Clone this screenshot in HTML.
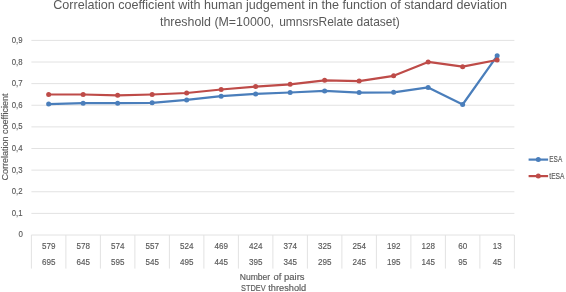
<!DOCTYPE html>
<html><head><meta charset="utf-8"><style>
html,body{margin:0;padding:0;background:#fff;width:566px;height:292px;overflow:hidden}
svg{display:block}
.ax{font-family:"Liberation Sans",sans-serif;font-size:9px;fill:#595959;stroke:#595959;stroke-width:0.15px}
.tt{font-family:"Liberation Sans",sans-serif;font-size:13px;fill:#595959}
</style></head><body>
<svg width="566" height="292" viewBox="0 0 566 292">
<line x1="31.4" y1="213.38" x2="514.40" y2="213.38" stroke="#e2e2e2" stroke-width="1"/>
<line x1="31.4" y1="191.75" x2="514.40" y2="191.75" stroke="#e2e2e2" stroke-width="1"/>
<line x1="31.4" y1="170.12" x2="514.40" y2="170.12" stroke="#e2e2e2" stroke-width="1"/>
<line x1="31.4" y1="148.50" x2="514.40" y2="148.50" stroke="#e2e2e2" stroke-width="1"/>
<line x1="31.4" y1="126.88" x2="514.40" y2="126.88" stroke="#e2e2e2" stroke-width="1"/>
<line x1="31.4" y1="105.25" x2="514.40" y2="105.25" stroke="#e2e2e2" stroke-width="1"/>
<line x1="31.4" y1="83.62" x2="514.40" y2="83.62" stroke="#e2e2e2" stroke-width="1"/>
<line x1="31.4" y1="62.00" x2="514.40" y2="62.00" stroke="#e2e2e2" stroke-width="1"/>
<line x1="31.4" y1="40.38" x2="514.40" y2="40.38" stroke="#e2e2e2" stroke-width="1"/>
<line x1="31.4" y1="235.0" x2="514.40" y2="235.0" stroke="#e2e2e2" stroke-width="1"/>
<line x1="31.40" y1="235.0" x2="31.40" y2="268.6" stroke="#e2e2e2" stroke-width="1"/>
<line x1="65.90" y1="235.0" x2="65.90" y2="268.6" stroke="#e2e2e2" stroke-width="1"/>
<line x1="100.40" y1="235.0" x2="100.40" y2="268.6" stroke="#e2e2e2" stroke-width="1"/>
<line x1="134.90" y1="235.0" x2="134.90" y2="268.6" stroke="#e2e2e2" stroke-width="1"/>
<line x1="169.40" y1="235.0" x2="169.40" y2="268.6" stroke="#e2e2e2" stroke-width="1"/>
<line x1="203.90" y1="235.0" x2="203.90" y2="268.6" stroke="#e2e2e2" stroke-width="1"/>
<line x1="238.40" y1="235.0" x2="238.40" y2="268.6" stroke="#e2e2e2" stroke-width="1"/>
<line x1="272.90" y1="235.0" x2="272.90" y2="268.6" stroke="#e2e2e2" stroke-width="1"/>
<line x1="307.40" y1="235.0" x2="307.40" y2="268.6" stroke="#e2e2e2" stroke-width="1"/>
<line x1="341.90" y1="235.0" x2="341.90" y2="268.6" stroke="#e2e2e2" stroke-width="1"/>
<line x1="376.40" y1="235.0" x2="376.40" y2="268.6" stroke="#e2e2e2" stroke-width="1"/>
<line x1="410.90" y1="235.0" x2="410.90" y2="268.6" stroke="#e2e2e2" stroke-width="1"/>
<line x1="445.40" y1="235.0" x2="445.40" y2="268.6" stroke="#e2e2e2" stroke-width="1"/>
<line x1="479.90" y1="235.0" x2="479.90" y2="268.6" stroke="#e2e2e2" stroke-width="1"/>
<line x1="514.40" y1="235.0" x2="514.40" y2="268.6" stroke="#e2e2e2" stroke-width="1"/>
<text x="23.0" y="236.90" text-anchor="end" class="ax" textLength="4.4" lengthAdjust="spacingAndGlyphs">0</text>
<text x="22.6" y="215.97" text-anchor="end" class="ax" textLength="10.8" lengthAdjust="spacingAndGlyphs">0,1</text>
<text x="22.6" y="194.35" text-anchor="end" class="ax" textLength="10.8" lengthAdjust="spacingAndGlyphs">0,2</text>
<text x="22.6" y="172.72" text-anchor="end" class="ax" textLength="10.8" lengthAdjust="spacingAndGlyphs">0,3</text>
<text x="22.6" y="151.10" text-anchor="end" class="ax" textLength="10.8" lengthAdjust="spacingAndGlyphs">0,4</text>
<text x="22.6" y="129.47" text-anchor="end" class="ax" textLength="10.8" lengthAdjust="spacingAndGlyphs">0,5</text>
<text x="22.6" y="107.85" text-anchor="end" class="ax" textLength="10.8" lengthAdjust="spacingAndGlyphs">0,6</text>
<text x="22.6" y="86.22" text-anchor="end" class="ax" textLength="10.8" lengthAdjust="spacingAndGlyphs">0,7</text>
<text x="22.6" y="64.60" text-anchor="end" class="ax" textLength="10.8" lengthAdjust="spacingAndGlyphs">0,8</text>
<text x="22.6" y="42.98" text-anchor="end" class="ax" textLength="10.8" lengthAdjust="spacingAndGlyphs">0,9</text>
<text x="41.90" y="249.4" class="ax" textLength="13.5" lengthAdjust="spacingAndGlyphs">579</text>
<text x="41.90" y="265.0" class="ax" textLength="13.5" lengthAdjust="spacingAndGlyphs">695</text>
<text x="76.40" y="249.4" class="ax" textLength="13.5" lengthAdjust="spacingAndGlyphs">578</text>
<text x="76.40" y="265.0" class="ax" textLength="13.5" lengthAdjust="spacingAndGlyphs">645</text>
<text x="110.90" y="249.4" class="ax" textLength="13.5" lengthAdjust="spacingAndGlyphs">574</text>
<text x="110.90" y="265.0" class="ax" textLength="13.5" lengthAdjust="spacingAndGlyphs">595</text>
<text x="145.40" y="249.4" class="ax" textLength="13.5" lengthAdjust="spacingAndGlyphs">557</text>
<text x="145.40" y="265.0" class="ax" textLength="13.5" lengthAdjust="spacingAndGlyphs">545</text>
<text x="179.90" y="249.4" class="ax" textLength="13.5" lengthAdjust="spacingAndGlyphs">524</text>
<text x="179.90" y="265.0" class="ax" textLength="13.5" lengthAdjust="spacingAndGlyphs">495</text>
<text x="214.40" y="249.4" class="ax" textLength="13.5" lengthAdjust="spacingAndGlyphs">469</text>
<text x="214.40" y="265.0" class="ax" textLength="13.5" lengthAdjust="spacingAndGlyphs">445</text>
<text x="248.90" y="249.4" class="ax" textLength="13.5" lengthAdjust="spacingAndGlyphs">424</text>
<text x="248.90" y="265.0" class="ax" textLength="13.5" lengthAdjust="spacingAndGlyphs">395</text>
<text x="283.40" y="249.4" class="ax" textLength="13.5" lengthAdjust="spacingAndGlyphs">374</text>
<text x="283.40" y="265.0" class="ax" textLength="13.5" lengthAdjust="spacingAndGlyphs">345</text>
<text x="317.90" y="249.4" class="ax" textLength="13.5" lengthAdjust="spacingAndGlyphs">325</text>
<text x="317.90" y="265.0" class="ax" textLength="13.5" lengthAdjust="spacingAndGlyphs">295</text>
<text x="352.40" y="249.4" class="ax" textLength="13.5" lengthAdjust="spacingAndGlyphs">254</text>
<text x="352.40" y="265.0" class="ax" textLength="13.5" lengthAdjust="spacingAndGlyphs">245</text>
<text x="386.90" y="249.4" class="ax" textLength="13.5" lengthAdjust="spacingAndGlyphs">192</text>
<text x="386.90" y="265.0" class="ax" textLength="13.5" lengthAdjust="spacingAndGlyphs">195</text>
<text x="421.40" y="249.4" class="ax" textLength="13.5" lengthAdjust="spacingAndGlyphs">128</text>
<text x="421.40" y="265.0" class="ax" textLength="13.5" lengthAdjust="spacingAndGlyphs">145</text>
<text x="458.15" y="249.4" class="ax" textLength="9.0" lengthAdjust="spacingAndGlyphs">60</text>
<text x="458.15" y="265.0" class="ax" textLength="9.0" lengthAdjust="spacingAndGlyphs">95</text>
<text x="492.65" y="249.4" class="ax" textLength="9.0" lengthAdjust="spacingAndGlyphs">13</text>
<text x="492.65" y="265.0" class="ax" textLength="9.0" lengthAdjust="spacingAndGlyphs">45</text>
<polyline points="48.65,104.10 83.15,103.20 117.65,103.20 152.15,102.80 186.65,99.90 221.15,96.20 255.65,93.90 290.15,92.50 324.65,90.90 359.15,92.60 393.65,92.30 428.15,87.40 462.65,104.50 497.15,55.80" fill="none" stroke="#4a7ebb" stroke-width="2.2" stroke-linejoin="round" stroke-linecap="round"/><circle cx="48.65" cy="104.10" r="2.5" fill="#4a7ebb"/><circle cx="83.15" cy="103.20" r="2.5" fill="#4a7ebb"/><circle cx="117.65" cy="103.20" r="2.5" fill="#4a7ebb"/><circle cx="152.15" cy="102.80" r="2.5" fill="#4a7ebb"/><circle cx="186.65" cy="99.90" r="2.5" fill="#4a7ebb"/><circle cx="221.15" cy="96.20" r="2.5" fill="#4a7ebb"/><circle cx="255.65" cy="93.90" r="2.5" fill="#4a7ebb"/><circle cx="290.15" cy="92.50" r="2.5" fill="#4a7ebb"/><circle cx="324.65" cy="90.90" r="2.5" fill="#4a7ebb"/><circle cx="359.15" cy="92.60" r="2.5" fill="#4a7ebb"/><circle cx="393.65" cy="92.30" r="2.5" fill="#4a7ebb"/><circle cx="428.15" cy="87.40" r="2.5" fill="#4a7ebb"/><circle cx="462.65" cy="104.50" r="2.5" fill="#4a7ebb"/><circle cx="497.15" cy="55.80" r="2.5" fill="#4a7ebb"/>
<polyline points="48.65,94.50 83.15,94.50 117.65,95.30 152.15,94.50 186.65,93.00 221.15,89.50 255.65,86.60 290.15,84.30 324.65,80.30 359.15,81.10 393.65,75.80 428.15,61.90 462.65,66.70 497.15,60.00" fill="none" stroke="#be4b48" stroke-width="2.2" stroke-linejoin="round" stroke-linecap="round"/><circle cx="48.65" cy="94.50" r="2.5" fill="#be4b48"/><circle cx="83.15" cy="94.50" r="2.5" fill="#be4b48"/><circle cx="117.65" cy="95.30" r="2.5" fill="#be4b48"/><circle cx="152.15" cy="94.50" r="2.5" fill="#be4b48"/><circle cx="186.65" cy="93.00" r="2.5" fill="#be4b48"/><circle cx="221.15" cy="89.50" r="2.5" fill="#be4b48"/><circle cx="255.65" cy="86.60" r="2.5" fill="#be4b48"/><circle cx="290.15" cy="84.30" r="2.5" fill="#be4b48"/><circle cx="324.65" cy="80.30" r="2.5" fill="#be4b48"/><circle cx="359.15" cy="81.10" r="2.5" fill="#be4b48"/><circle cx="393.65" cy="75.80" r="2.5" fill="#be4b48"/><circle cx="428.15" cy="61.90" r="2.5" fill="#be4b48"/><circle cx="462.65" cy="66.70" r="2.5" fill="#be4b48"/><circle cx="497.15" cy="60.00" r="2.5" fill="#be4b48"/>
<line x1="528.6" y1="159.6" x2="548.1" y2="159.6" stroke="#4a7ebb" stroke-width="2.2"/><circle cx="538.3" cy="159.6" r="2.5" fill="#4a7ebb"/>
<line x1="528.6" y1="176.1" x2="548.1" y2="176.1" stroke="#be4b48" stroke-width="2.2"/><circle cx="538.3" cy="176.1" r="2.5" fill="#be4b48"/>
<text x="549.3" y="162.3" class="ax" textLength="12.9" lengthAdjust="spacingAndGlyphs">ESA</text>
<text x="549.3" y="178.8" class="ax" textLength="15.2" lengthAdjust="spacingAndGlyphs">tESA</text>
<text x="239.7" y="279.7" class="ax" textLength="30.5" lengthAdjust="spacingAndGlyphs">Number</text>
<text x="273.6" y="279.7" class="ax" textLength="31" lengthAdjust="spacingAndGlyphs">of pairs</text>
<text x="241" y="290.6" class="ax" textLength="24.6" lengthAdjust="spacingAndGlyphs">STDEV</text>
<text x="268.3" y="290.6" class="ax" textLength="37.9" lengthAdjust="spacingAndGlyphs">threshold</text>
<text transform="translate(7.7,137) rotate(-90)" text-anchor="middle" class="ax" textLength="87" lengthAdjust="spacingAndGlyphs">Correlation coefficient</text>
<text x="53.2" y="9.2" class="tt" textLength="453.8" lengthAdjust="spacingAndGlyphs">Correlation coefficient with human judgement in the function of standard deviation</text>
<text x="160" y="25.5" class="tt" textLength="114" lengthAdjust="spacingAndGlyphs">threshold (M=10000,</text>
<text x="279.2" y="25.5" class="tt" textLength="120.6" lengthAdjust="spacingAndGlyphs">umnsrsRelate dataset)</text>
</svg>
</body></html>
